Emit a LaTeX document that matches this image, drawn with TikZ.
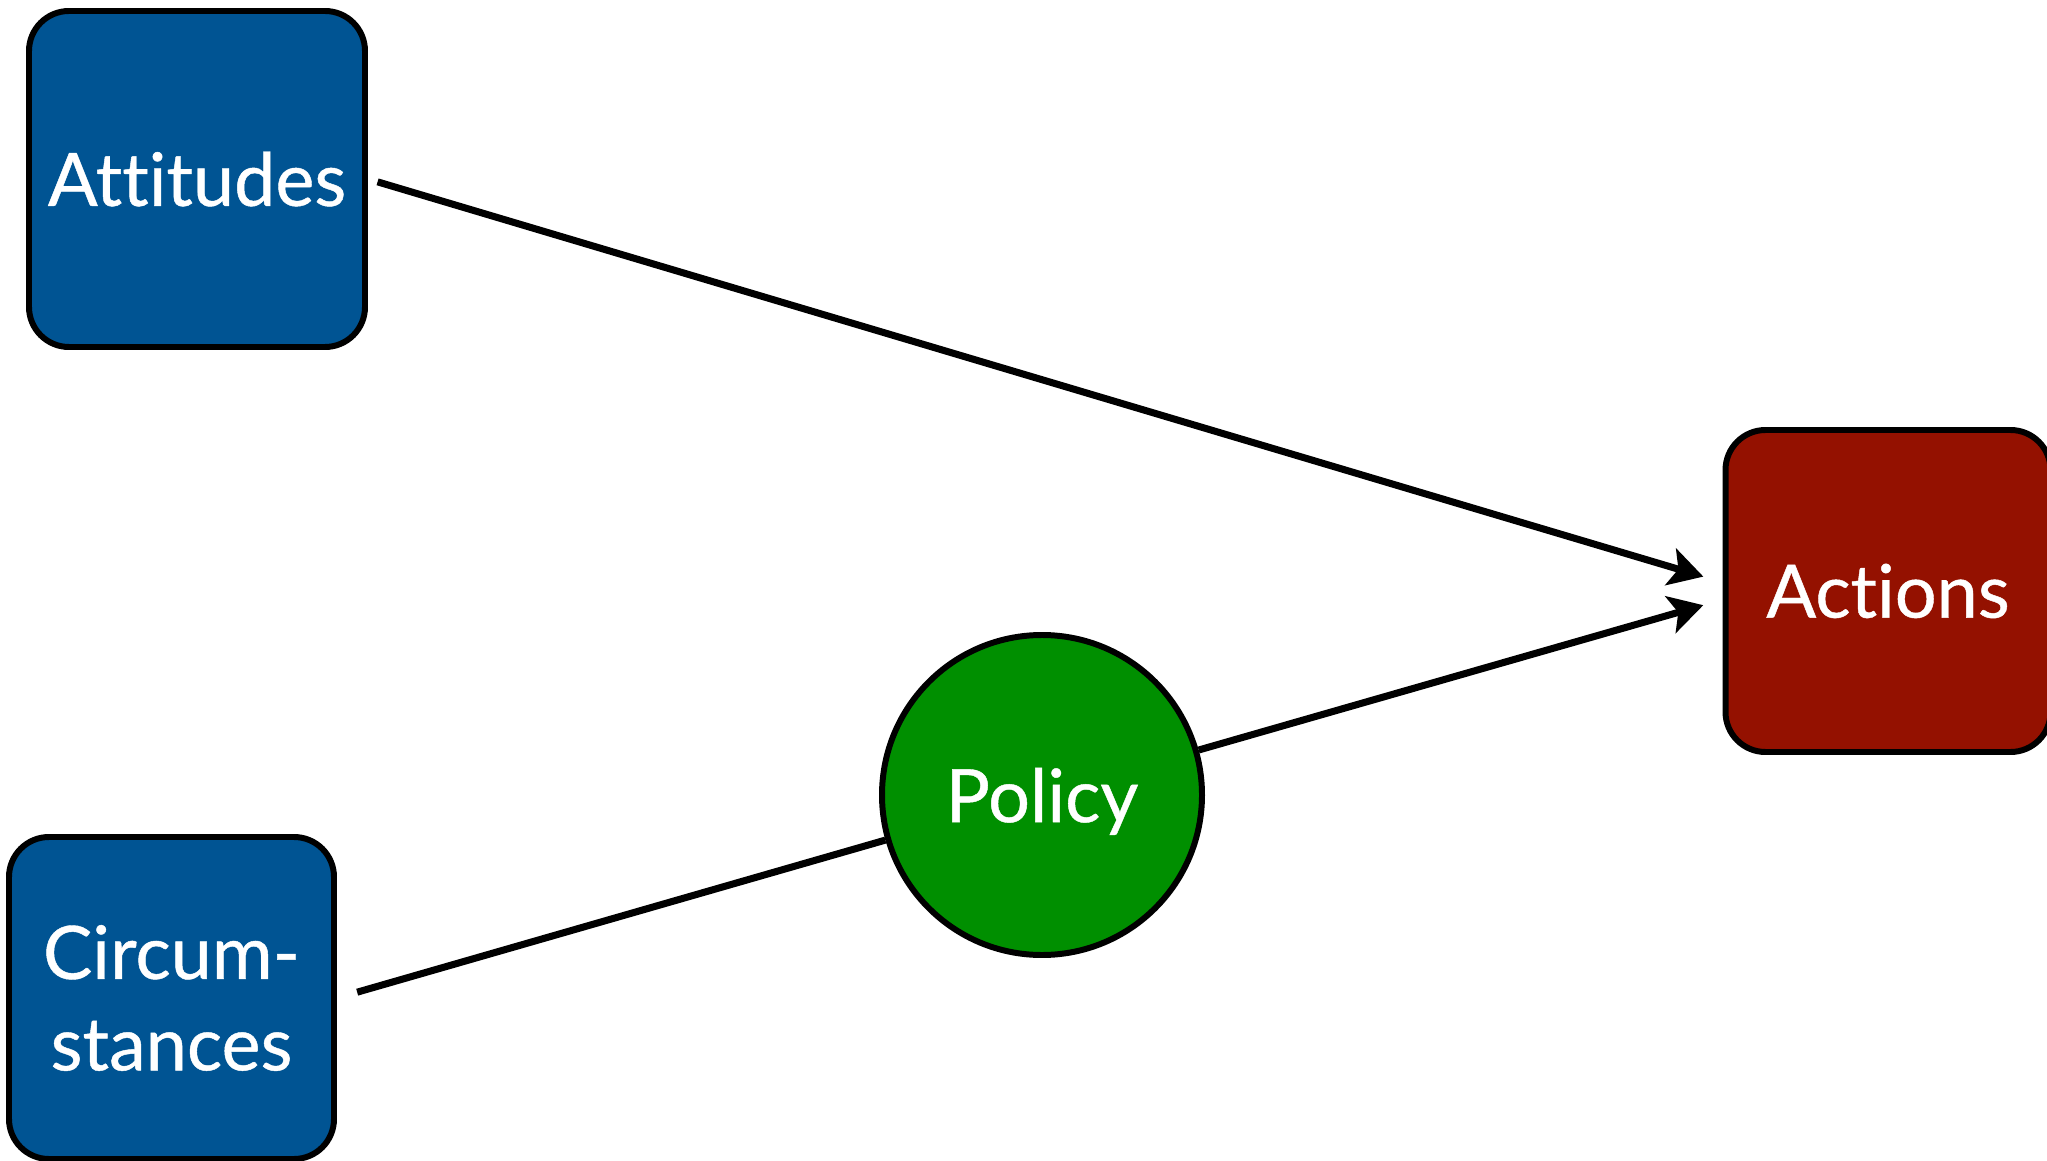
\documentclass[tikz,border=0pt]{standalone}
\usepackage{fontspec}
\setmainfont{Lato}[Ligatures=NoCommon]
\newfontfamily\boxfont{Lato}[Ligatures=NoCommon, FakeBold=0.6]
\usepackage{xcolor}
\usepackage{tikz}
\usetikzlibrary{arrows.meta}
\definecolor{dgblue}{HTML}{005493}
\definecolor{dgred}{HTML}{941100}
\definecolor{dggreen}{HTML}{008F00}
\tikzset{
  factor/.style={rounded corners=0.4cm, draw=black, fill=dgblue, line width=1.7pt,
    align=center, text=white, inner sep=0pt, minimum width=3.25cm, minimum height=3.22cm,
    font=\boxfont\fontsize{21}{26}\selectfont},
  outcome/.style={factor, fill=dgred},
  choice/.style={circle, draw=black, fill=dggreen, line width=1.7pt, text=white,
    inner sep=0pt, minimum size=3.2cm, text depth=0pt, font=\boxfont\fontsize{21}{26}\selectfont},
  flow/.style={-{Stealth[length=3.4mm, width=3.8mm, inset=0.8mm]}, line width=2pt},
  link/.style={line width=2pt},
}
\begin{document}
\begin{tikzpicture}
\useasboundingbox (0,0) rectangle (20.47,-11.61);
\node[factor, minimum width=3.36cm, minimum height=3.36cm] (att) at (1.97,-1.79) {Attitudes};
\node[factor] (circ) at (1.715,-9.98) {Circum-\\stances};
\node[choice] (pol) at (10.42,-7.95) {Policy};
\node[outcome] (act) at (18.88,-5.91) {Actions};

\draw[flow, shorten <=0.1cm, shorten >=0.2cm] (att.east) -- (act.177);
\draw[link, shorten <=0.21cm] (circ.east) -- (pol);
\draw[flow, shorten >=0.2cm] (pol) -- (act.183);
\end{tikzpicture}
\end{document}
